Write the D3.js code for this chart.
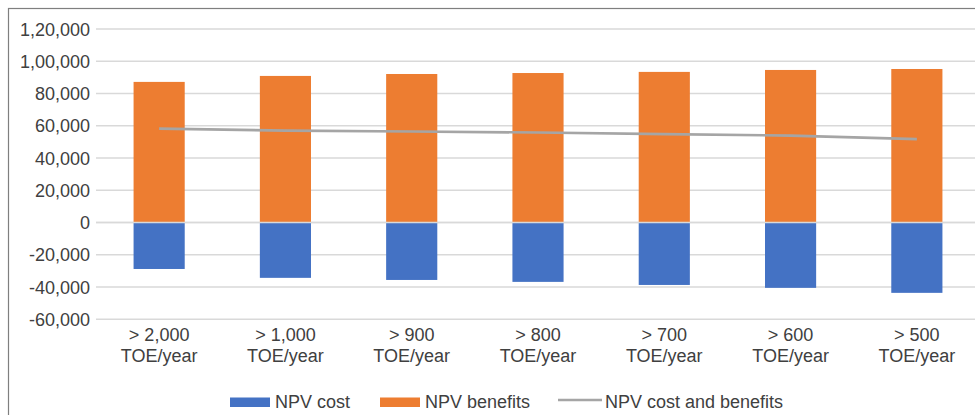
<!DOCTYPE html>
<html>
<head>
<meta charset="utf-8">
<script src="https://cdn.jsdelivr.net/npm/d3@7"></script>
<style>
  body { margin: 0; background: #fff; }
  text { font-family: "Liberation Sans", Arial, sans-serif; fill: #404040; }
</style>
</head>
<body>
<svg width="975" height="415"></svg>
<script>
var categories = ["> 2,000|TOE/year", "> 1,000|TOE/year", "> 900|TOE/year", "> 800|TOE/year",
                  "> 700|TOE/year", "> 600|TOE/year", "> 500|TOE/year"];
var npvCost = [-28800, -34300, -35600, -36800, -38700, -40500, -43600];
var npvBenefits = [87200, 90900, 92100, 92700, 93400, 94600, 95200];
var npvNet = [58200, 57000, 56400, 55800, 54800, 53900, 51700];
var yTicks = [-60000, -40000, -20000, 0, 20000, 40000, 60000, 80000, 100000, 120000];
var yTickLabels = ["-60,000", "-40,000", "-20,000", "0", "20,000", "40,000", "60,000", "80,000", "1,00,000", "1,20,000"];

var svg = d3.select("svg");

// outer frame
svg.append("rect")
    .attr("x", 8.5).attr("y", 8.5)
    .attr("width", 1000).attr("height", 500)
    .attr("fill", "none").attr("stroke", "#7f7f7f").attr("stroke-width", 1.2);

var x = d3.scaleBand().domain(d3.range(categories.length)).range([96, 980]).paddingInner(0.595).paddingOuter(0.2975);
var y = d3.scaleLinear().domain([-60000, 120000]).range([319.3, 29]);

// gridlines
svg.append("g").selectAll("line").data(yTicks).enter()
    .append("line")
    .attr("x1", 96).attr("x2", 980)
    .attr("y1", function (d) { return y(d); })
    .attr("y2", function (d) { return y(d); })
    .attr("stroke", "#d9d9d9").attr("stroke-width", 1.5);

// y labels
svg.append("g").selectAll("text").data(yTicks).enter()
    .append("text")
    .attr("x", 90)
    .attr("y", function (d) { return y(d) + 6.5; })
    .attr("text-anchor", "end")
    .attr("font-size", "18px")
    .text(function (d, i) { return yTickLabels[i]; });

// bars
svg.append("g").selectAll("rect").data(npvBenefits).enter()
    .append("rect")
    .attr("x", function (d, i) { return x(i); })
    .attr("width", x.bandwidth())
    .attr("y", function (d) { return y(d); })
    .attr("height", function (d) { return y(0) - y(d); })
    .attr("fill", "#ed7d31");

svg.append("g").selectAll("rect").data(npvCost).enter()
    .append("rect")
    .attr("x", function (d, i) { return x(i); })
    .attr("width", x.bandwidth())
    .attr("y", y(0))
    .attr("height", function (d) { return y(d) - y(0); })
    .attr("fill", "#4472c4");

// zero line
svg.append("line")
    .attr("x1", 96).attr("x2", 980)
    .attr("y1", y(0)).attr("y2", y(0))
    .attr("stroke", "#d9d9d9").attr("stroke-width", 1.5);

// net line
var line = d3.line()
    .x(function (d, i) { return x(i) + x.bandwidth() / 2; })
    .y(function (d) { return y(d); });
svg.append("path")
    .datum(npvNet)
    .attr("d", line)
    .attr("fill", "none")
    .attr("stroke", "#a5a5a5")
    .attr("stroke-width", 2.6);

// x labels
var xl = svg.append("g").selectAll("text").data(categories).enter()
    .append("text")
    .attr("text-anchor", "middle")
    .attr("font-size", "18px")
    .attr("x", function (d, i) { return x(i) + x.bandwidth() / 2; });
xl.append("tspan")
    .attr("x", function (d, i) { return x(i) + x.bandwidth() / 2; })
    .attr("y", 340.5)
    .text(function (d) { return d.split("|")[0]; });
xl.append("tspan")
    .attr("x", function (d, i) { return x(i) + x.bandwidth() / 2; })
    .attr("y", 361.5)
    .text(function (d) { return d.split("|")[1]; });

// legend
var legend = svg.append("g").attr("font-size", "18px");
legend.append("rect").attr("x", 230).attr("y", 397.5).attr("width", 40).attr("height", 9.5).attr("fill", "#4472c4");
legend.append("text").attr("x", 275).attr("y", 407.5).text("NPV cost");
legend.append("rect").attr("x", 380).attr("y", 397.5).attr("width", 40).attr("height", 9.5).attr("fill", "#ed7d31");
legend.append("text").attr("x", 425).attr("y", 407.5).text("NPV benefits");
legend.append("line").attr("x1", 558).attr("x2", 602).attr("y1", 400).attr("y2", 400)
    .attr("stroke", "#a5a5a5").attr("stroke-width", 2.6);
legend.append("text").attr("x", 605).attr("y", 407.5).text("NPV cost and benefits");
</script>
</body>
</html>
